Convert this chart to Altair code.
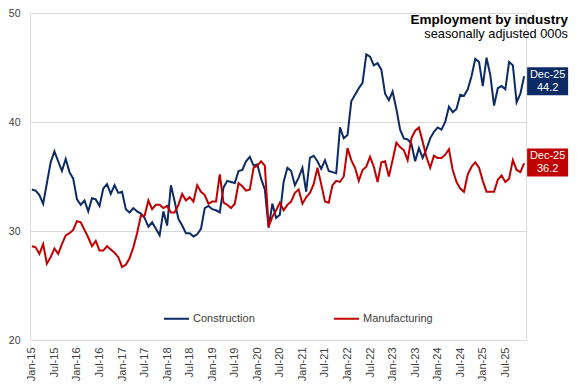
import altair as alt
import pandas as pd

# ---- data -------------------------------------------------------------
month_names = ["Jan", "Feb", "Mar", "Apr", "May", "Jun",
               "Jul", "Aug", "Sep", "Oct", "Nov", "Dec"]
years = ["15", "16", "17", "18", "19", "20", "21", "22", "23", "24", "25"]
months = [f"{m}-{y}" for y in years for m in month_names]
tick_labels = [m for m in months if m[:3] in ("Jan", "Jul")]

construction = [
    33.8, 33.7, 33.3, 32.5, 34.4, 36.3, 37.3, 36.4, 35.5, 36.6, 35.4, 34.8,
    32.9, 32.4, 32.8, 31.8, 33.0, 32.9, 32.3, 33.9, 34.3, 33.4, 34.2, 33.5,
    33.6, 32.0, 31.7, 32.1, 31.8, 31.6, 31.2, 30.4, 30.8, 30.2, 29.6, 31.8,
    30.5, 34.2, 32.7, 31.1, 30.5, 29.8, 29.8, 29.5, 29.7, 30.2, 32.1, 32.3,
    32.0, 31.9, 31.7, 34.0, 34.6, 34.5, 34.4, 35.5, 35.6, 36.4, 36.8, 36.0,
    36.1, 34.8, 33.8, 30.3, 32.5, 31.2, 31.5, 34.5, 35.8, 35.5, 34.2, 34.9,
    35.8, 33.6, 36.7, 36.9, 36.4, 35.7, 36.5, 35.5, 35.4, 35.3, 39.5, 38.5,
    38.8, 41.9, 42.5, 43.1, 43.6, 46.2, 46.0, 45.2, 45.4, 44.8, 42.6, 42.0,
    42.8, 41.2, 39.3, 38.5, 38.4, 38.0, 36.4, 37.6, 36.7, 37.5, 38.5, 39.1,
    39.5, 39.3, 40.0, 41.4, 40.9, 41.2, 42.5, 42.4, 43.0, 44.2, 45.8, 45.5,
    43.3, 45.9, 44.3, 41.5, 43.1, 43.3, 43.0, 45.5, 45.2, 41.8, 42.6, 44.2,
]

manufacturing = [
    28.6, 28.5, 27.9, 28.8, 27.0, 27.6, 28.4, 27.9, 28.8, 29.6, 29.8, 30.1,
    30.9, 30.8, 30.1, 29.4, 28.6, 29.1, 28.2, 28.2, 28.6, 28.3, 28.0, 27.6,
    26.7, 26.9, 27.5, 28.5, 29.8, 31.4, 31.4, 32.8, 32.0, 32.4, 32.4, 32.1,
    32.3, 31.7, 31.7, 32.4, 33.4, 32.8, 33.1, 32.7, 34.2, 33.6, 33.3, 32.5,
    32.7, 32.7, 35.2, 32.6, 32.4, 32.1, 32.5, 34.4, 34.1, 33.7, 33.8, 35.8,
    36.0, 36.4, 36.0, 30.4, 31.3, 31.9, 32.6, 31.9, 32.4, 32.7, 33.5, 33.8,
    32.5, 33.1, 33.5, 34.3, 35.8, 34.3, 32.7, 32.6, 34.2, 34.6, 34.5, 35.0,
    37.6, 36.5, 35.8, 34.6, 35.6, 35.9, 36.8, 35.9, 34.5, 36.3, 36.4, 35.0,
    36.5, 38.1, 37.7, 37.4, 36.5, 38.5, 39.2, 39.5, 38.2, 36.8, 35.8, 36.9,
    36.7, 36.7, 37.0, 37.5, 35.6, 34.5, 33.9, 33.6, 35.2, 35.9, 36.3, 35.8,
    34.6, 33.6, 33.6, 33.6, 34.7, 35.1, 34.5, 34.8, 36.5, 35.6, 35.4, 36.2,
]

series_names = ["Construction", "Manufacturing"]
series_colors = ["#0C2A63", "#C00000"]

df = pd.DataFrame({
    "month": months * 2,
    "series": [series_names[0]] * len(months) + [series_names[1]] * len(months),
    "value": construction + manufacturing,
})

FONT = "Liberation Sans"

x_enc = alt.X(
    "month:O", sort=months, title=None,
    scale=alt.Scale(type="point", padding=0.5),
    axis=alt.Axis(values=tick_labels, labelAngle=-90, labelPadding=7,
                  ticks=False, domain=False, grid=False, labelFontSize=11,
                  labelColor="#404040", labelFont=FONT),
)
y_enc = alt.Y(
    "value:Q", title=None,
    scale=alt.Scale(domain=[20, 50], nice=False, zero=False),
    axis=alt.Axis(values=[20, 30, 40, 50], ticks=False, domain=False,
                  labelPadding=10, gridColor="#d9d9d9", gridWidth=1,
                  labelFontSize=10.5, labelColor="#404040", labelFont=FONT),
)

base = alt.Chart(df)

lines = base.mark_line(strokeWidth=2).encode(
    x=x_enc,
    y=y_enc,
    color=alt.Color(
        "series:N",
        scale=alt.Scale(domain=series_names, range=series_colors),
        legend=alt.Legend(
            title=None, orient="none", direction="horizontal",
            legendX=133, legendY=292, symbolType="stroke", symbolSize=625,
            symbolStrokeWidth=2, labelFontSize=11, labelFont=FONT,
            labelColor="#404040", columnPadding=75, labelOffset=3,
        ),
    ),
)


def end_label(name, color, shift):
    b = base.transform_filter(
        (alt.datum.series == name) & (alt.datum.month == months[-1])
    )
    box = b.mark_rect(
        color=color, xOffset=3, x2Offset=44,
        yOffset=shift - 14, y2Offset=shift + 14,
    ).encode(x=alt.X("month:O", sort=months), x2="month",
             y="value:Q", y2="value")
    t1 = b.mark_text(color="white", fontSize=11, font=FONT, dx=23.5,
                     dy=shift - 6).encode(
        x=alt.X("month:O", sort=months), y="value:Q", text="month:N")
    t2 = b.mark_text(color="white", fontSize=11, font=FONT, dx=23.5,
                     dy=shift + 7).encode(
        x=alt.X("month:O", sort=months), y="value:Q",
        text=alt.Text("value:Q", format=".1f"))
    return box + t1 + t2


chart = alt.layer(
    lines,
    end_label(series_names[0], series_colors[0], 5),
    end_label(series_names[1], series_colors[1], -1),
).properties(
    width=496,
    height=327,
    autosize=alt.AutoSizeParams(type="none"),
    padding={"left": 22, "top": 5, "right": 43, "bottom": 45},
    title=alt.TitleParams(
        text="Employment by industry",
        subtitle="seasonally adjusted 000s",
        anchor="end", orient="top", frame="group",
        font=FONT, fontSize=13.5, fontWeight="bold", color="#000000",
        subtitleFont=FONT, subtitleFontSize=12.8, subtitleColor="#000000",
        subtitlePadding=2, dx=42, offset=-33,
    ),
).configure_view(stroke=None).configure(background="white")

chart.save("out.html", embed_options={"renderer": "svg", "actions": False})
